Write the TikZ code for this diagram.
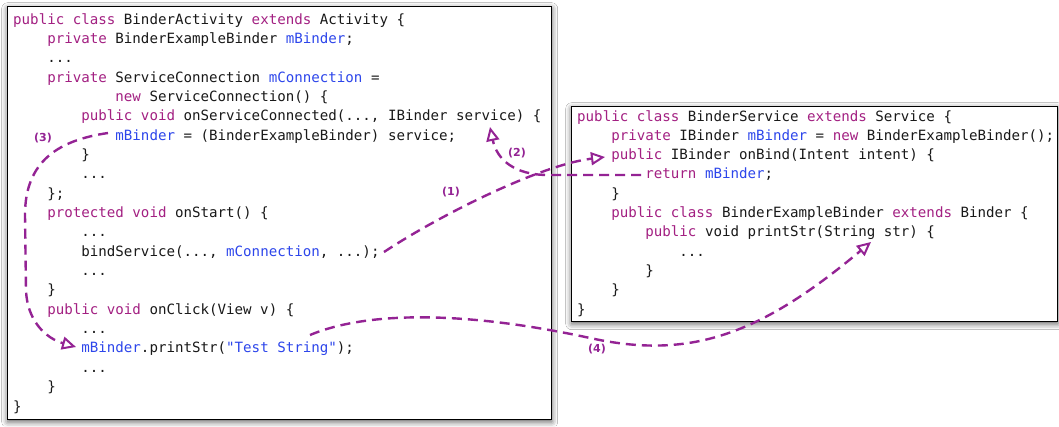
\documentclass[tikz,border=0pt]{standalone}
\usepackage{fontspec}
\usetikzlibrary{arrows.meta,shadows.blur}
\newfontfamily\codefont{DejaVu Sans Mono}
\newfontfamily\labfont{DejaVu Sans}
\definecolor{kwc}{RGB}{163,32,130}
\definecolor{idc}{RGB}{45,70,235}
\definecolor{txc}{RGB}{25,25,25}
\definecolor{arc}{RGB}{148,35,148}
\newcommand\codekw[1]{\textcolor{kwc}{#1}}
\newcommand\codeid[1]{\textcolor{idc}{#1}}
\tikzset{
  panel/.style={draw=black, line width=1.4pt, fill=white, anchor=north west, inner sep=0pt,
    blur shadow={shadow xshift=0pt, shadow yshift=-2pt, shadow blur radius=6pt, shadow opacity=65}},
  codeline/.style={anchor=base west, inner sep=0pt, text=txc,
    font=\codefont\fontsize{14.15pt}{19pt}\selectfont},
  conn/.style={draw=arc, line width=2.4pt, dash pattern=on 10pt off 6pt,
    -{Triangle[open, length=14pt, width=13pt, line width=2pt]}},
  lab/.style={text=arc, inner sep=0pt, font=\labfont\bfseries\fontsize{11pt}{12pt}\selectfont}
}
\begin{document}
\begin{tikzpicture}[x=1pt,y=-1pt]
\useasboundingbox (0,0) rectangle (1059,426);
\fill[white] (0,0) rectangle (1059,426);
% panels
\node[panel, minimum width=544pt, minimum height=413pt] (leftpanel) at (7,6) {};
\node[panel, minimum width=486pt, minimum height=215pt] (rightpanel) at (571,106) {};
% left code
\def\lx{13}
\node[codeline] (l0)  at (\lx+0*8.52, 24+0*19.35)  {\codekw{public} \codekw{class} BinderActivity \codekw{extends} Activity \{};
\node[codeline] (l1)  at (\lx+4*8.52, 24+1*19.35)  {\codekw{private} BinderExampleBinder \codeid{mBinder};};
\node[codeline] (l2)  at (\lx+4*8.52, 24+2*19.35)  {...};
\node[codeline] (l3)  at (\lx+4*8.52, 24+3*19.35)  {\codekw{private} ServiceConnection \codeid{mConnection} =};
\node[codeline] (l4)  at (\lx+12*8.52, 24+4*19.35) {\codekw{new} ServiceConnection() \{};
\node[codeline] (l5)  at (\lx+8*8.52, 24+5*19.35)  {\codekw{public} \codekw{void} onServiceConnected(..., IBinder service) \{};
\node[codeline] (l6)  at (\lx+12*8.52, 24+6*19.35) {\codeid{mBinder} = (BinderExampleBinder) service;};
\node[codeline] (l7)  at (\lx+8*8.52, 24+7*19.35)  {\}};
\node[codeline] (l8)  at (\lx+8*8.52, 24+8*19.35)  {...};
\node[codeline] (l9)  at (\lx+4*8.52, 24+9*19.35)  {\};};
\node[codeline] (l10) at (\lx+4*8.52, 24+10*19.35) {\codekw{protected} \codekw{void} onStart() \{};
\node[codeline] (l11) at (\lx+8*8.52, 24+11*19.35) {...};
\node[codeline] (l12) at (\lx+8*8.52, 24+12*19.35) {bindService(..., \codeid{mConnection}, ...);};
\node[codeline] (l13) at (\lx+8*8.52, 24+13*19.35) {...};
\node[codeline] (l14) at (\lx+4*8.52, 24+14*19.35) {\}};
\node[codeline] (l15) at (\lx+4*8.52, 24+15*19.35) {\codekw{public} \codekw{void} onClick(View v) \{};
\node[codeline] (l16) at (\lx+8*8.52, 24+16*19.35) {...};
\node[codeline] (l17) at (\lx+8*8.52, 24+17*19.35) {\codeid{mBinder}.printStr(\codeid{"Test String"});};
\node[codeline] (l18) at (\lx+8*8.52, 24+18*19.35) {...};
\node[codeline] (l19) at (\lx+4*8.52, 24+19*19.35) {\}};
\node[codeline] (l20) at (\lx+0*8.52, 24+20*19.35) {\}};
% right code
\def\rx{577}
\node[codeline] (r0)  at (\rx+0*8.52, 121+0*19.3) {\codekw{public} \codekw{class} BinderService \codekw{extends} Service \{};
\node[codeline] (r1)  at (\rx+4*8.52, 121+1*19.3) {\codekw{private} IBinder \codeid{mBinder} = \codekw{new} BinderExampleBinder();};
\node[codeline] (r2)  at (\rx+4*8.52, 121+2*19.3) {\codekw{public} IBinder onBind(Intent intent) \{};
\node[codeline] (r3)  at (\rx+8*8.52, 121+3*19.3) {\codekw{return} \codeid{mBinder};};
\node[codeline] (r4)  at (\rx+4*8.52, 121+4*19.3) {\}};
\node[codeline] (r5)  at (\rx+4*8.52, 121+5*19.3) {\codekw{public} \codekw{class} BinderExampleBinder \codekw{extends} Binder \{};
\node[codeline] (r6)  at (\rx+8*8.52, 121+6*19.3) {\codekw{public} void printStr(String str) \{};
\node[codeline] (r7)  at (\rx+12*8.52, 121+7*19.3) {...};
\node[codeline] (r8)  at (\rx+8*8.52, 121+8*19.3) {\}};
\node[codeline] (r9)  at (\rx+4*8.52, 121+9*19.3) {\}};
\node[codeline] (r10) at (\rx+0*8.52, 121+10*19.3) {\}};
% connector end points
\coordinate (s1) at (384,252);
\coordinate (t1) at (605,157);
\coordinate (s2) at (641,175);
\coordinate (t2) at (490,127);
\coordinate (s3) at (108,133);
\coordinate (t3) at (76,347);
\coordinate (s4) at (310,335);
\coordinate (t4) at (871,242);
% connectors
\draw[conn] (s1) .. controls (440,215) and (540,165) .. (t1);
\draw[conn] (s2) -- (548,175) .. controls (515,175) and (497,160) .. (t2);
\draw[conn] (s3) .. controls (60,140) and (25,160) .. (25,215) -- (26,290) .. controls (27,320) and (45,338) .. (t3);
\draw[conn] (s4) .. controls (370,310) and (470,312) .. (590,338) .. controls (690,360) and (760,335) .. (t4);
% labels
\node[lab] (n1) at (451,192) {(1)};
\node[lab] (n2) at (517,153) {(2)};
\node[lab] (n3) at (43,138) {(3)};
\node[lab] (n4) at (597,349) {(4)};
\end{tikzpicture}
\end{document}
